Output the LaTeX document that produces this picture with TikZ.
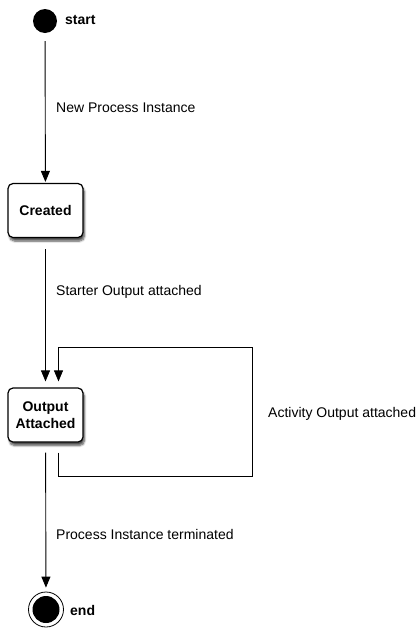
\documentclass[tikz,border=0pt]{standalone}
\usepackage{fontspec}
\setmainfont{Liberation Sans}
\usetikzlibrary{arrows.meta,shadows.blur}
\begin{document}
\begin{tikzpicture}[x=1pt,y=-1pt,
  lbl/.style={anchor=west,font=\fontsize{14}{16}\selectfont,inner sep=0pt},
  statebox/.style={draw,line width=1.2pt,fill=white,rounded corners=5pt,minimum width=75pt,minimum height=54pt,
    align=center,font=\fontsize{14}{17}\selectfont\bfseries,
    blur shadow={shadow xshift=1.5pt,shadow yshift=-3.5pt,shadow blur steps=6,shadow opacity=70}},
  tr/.style={-{Triangle[width=9pt,length=11pt]},line width=0.9pt},
  nm/.style={anchor=west,font=\fontsize{14}{16}\selectfont\bfseries,inner sep=0pt}]
\useasboundingbox (0,0) rectangle (420,630);
% nodes
\node[circle,fill=black,minimum size=24pt,inner sep=0pt] (start) at (45,21) {};
\node[nm] (startl) at (65,20) {start};
\node[statebox] (created) at (45.5,210.5) {Created};
\node[statebox] (output) at (45.5,415) {Output\\Attached};
\node[circle,draw,line width=0.8pt,minimum size=35pt,inner sep=0pt,
  path picture={\fill (path picture bounding box.center) circle (13.5pt);}] (end) at (46,609.5) {};
\node[nm] (endl) at (70,610) {end};
% connectors
\draw[tr,shorten <=8pt,shorten >=1pt] (start) -- (created);
\draw[tr,shorten <=11pt,shorten >=6pt] (created) -- (output);
\draw[tr,shorten <=10pt,shorten >=4pt] (output) -- (end);
\coordinate (lr) at (252,476);
\coordinate (ur) at (252,347);
\draw[tr] ([xshift=13pt,yshift=-10pt]output.south) |- (lr) -- (ur) -| ([xshift=13pt,yshift=6pt]output.north);
% labels
\node[lbl] (l1) at (56,108) {New Process Instance};
\node[lbl] (l2) at (56,292) {Starter Output attached};
\node[lbl] (l3) at (268,414) {Activity Output attached};
\node[lbl] (l4) at (56,534) {Process Instance terminated};
\end{tikzpicture}
\end{document}
